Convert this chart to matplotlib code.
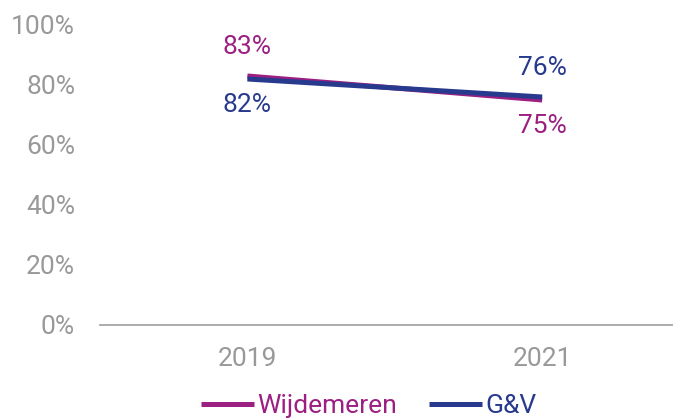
import matplotlib

matplotlib.use("Agg")
import matplotlib.pyplot as plt

plt.rcParams["font.family"] = ["Roboto", "DejaVu Sans"]

years = ["2019", "2021"]
wijdemeren = [83, 75]
gv = [82, 76]
yticks = [0, 20, 40, 60, 80, 100]

C_WIJ = "#9C1F82"
C_GV = "#283A8E"
GREY = "#999999"
FS = 19

fig = plt.figure(figsize=(6.73, 4.18), dpi=100)
ax = fig.add_axes([0.1486, 0.2225, 0.876, 0.7177])

x = range(len(years))
ax.plot(x, wijdemeren, color=C_WIJ, lw=3.6, label="Wijdemeren", solid_capstyle="butt")
ax.plot(x, gv, color=C_GV, lw=3.6, label="G&V", solid_capstyle="butt")

# labels: higher value above, lower below
for i in x:
    for vals, col, other in ((wijdemeren, C_WIJ, gv), (gv, C_GV, wijdemeren)):
        up = vals[i] >= other[i]
        ax.annotate(f"{vals[i]}%", (i, vals[i]), xytext=(0, 21 if up else -19),
                    textcoords="offset points", ha="center", va="center",
                    color=col, fontsize=FS)

ax.set_xlim(-0.5, 1.5)
ax.set_ylim(0, 100)
ax.set_xticks(list(x))
ax.set_xticklabels(years)
ax.set_yticks(yticks)
ax.set_yticklabels([f"{v}%" for v in yticks])
ax.tick_params(axis="both", length=0, colors=GREY, labelsize=FS)
ax.tick_params(axis="y", pad=18)
ax.tick_params(axis="x", pad=16)
for s in ("top", "right", "left"):
    ax.spines[s].set_visible(False)
ax.spines["bottom"].set_color("#A6A6A6")
ax.spines["bottom"].set_linewidth(1.3)

leg = fig.legend(loc="center", bbox_to_anchor=(0.548, 0.028), ncol=2, frameon=False,
                 fontsize=FS, handlelength=2.0, handletextpad=0.15, columnspacing=1.2)
for t, c in zip(leg.get_texts(), (C_WIJ, C_GV)):
    t.set_color(c)

fig.savefig("out.png", dpi=100)
